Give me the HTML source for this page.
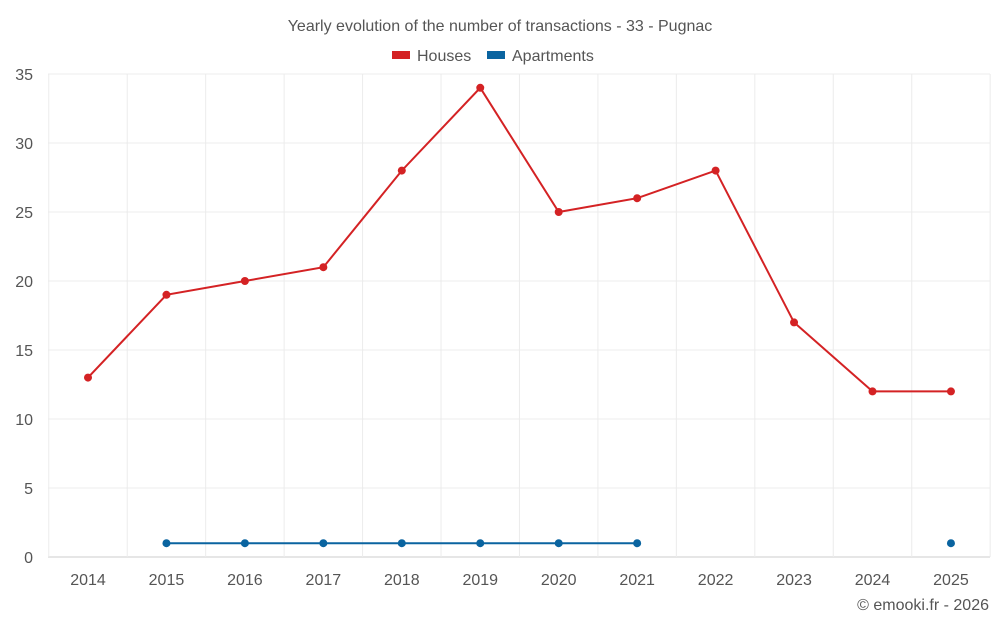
<!DOCTYPE html>
<html><head><meta charset="utf-8"><style>
body{margin:0;background:#fff;width:1000px;height:625px;overflow:hidden;font-family:"Liberation Sans",sans-serif}
</style></head><body>
<svg id="chart" width="1000" height="625" xmlns="http://www.w3.org/2000/svg">
<text x="500" y="31" text-anchor="middle" font-size="16" fill="#555">Yearly evolution of the number of transactions - 33 - Pugnac</text>
<g><rect x="392" y="51" width="18" height="8" fill="#d42224"/><text x="417" y="61" font-size="16" fill="#555">Houses</text></g>
<g><rect x="487" y="51" width="18" height="8" fill="#0a64a0"/><text x="512" y="61" font-size="16" fill="#555">Apartments</text></g>
<g id="grid"></g><g id="axes"></g><g id="series"></g>
<text x="989" y="610" text-anchor="end" font-size="16" fill="#555">© emooki.fr - 2026</text>
</svg>
<script>
const years=[2014,2015,2016,2017,2018,2019,2020,2021,2022,2023,2024,2025];
const houses=[13,19,20,21,28,34,25,26,28,17,12,12];
const apartments=[null,1,1,1,1,1,1,1,null,null,null,1];
const yTicks=[0,5,10,15,20,25,30,35];
const NS="http://www.w3.org/2000/svg";
const x0=88,step=78.45,yBase=557,yTop=74,yMax=35;
const X=i=>x0+i*step;
const Y=v=>yBase-(v/yMax)*(yBase-yTop);
function mk(tag,attrs,parent,text){const e=document.createElementNS(NS,tag);for(const k in attrs)e.setAttribute(k,attrs[k]);if(text!==undefined)e.textContent=text;document.getElementById(parent).appendChild(e);return e;}
yTicks.forEach(t=>{
 const l=mk('line',{x1:48,x2:990,y1:Y(t),y2:Y(t),stroke:t===0?'#ccc':'#ececec','stroke-width':1},'grid');
 
 
 const tx=mk('text',{x:33,y:Y(t)+6,'text-anchor':'end','font-size':16,fill:'#555'},'axes',t);
 
 
});
for(let i=0;i<=years.length;i++){
 const gx=X(i)-step/2;
 const l=mk('line',{x1:gx,x2:gx,y1:yTop,y2:yBase,stroke:'#ececec'},'grid');
 
 
}
years.forEach((yr,i)=>{
 const tx=mk('text',{x:X(i),y:585,'text-anchor':'middle','font-size':16,fill:'#555'},'axes',yr);
 
 
});
function drawSeries(vals,color,name){
 let d='',pen=false;
 vals.forEach((v,i)=>{if(v===null){pen=false;return;}d+=(pen?'L':'M')+X(i)+' '+Y(v)+' ';pen=true;});
 const p=mk('path',{d:d,fill:'none',stroke:color,'stroke-width':2},'series');
 
 
 vals.forEach((v,i)=>{if(v===null)return;
  const c=mk('circle',{cx:X(i),cy:Y(v),r:4,fill:color},'series');
  
  
 });
}
drawSeries(houses,'#d42224','houses');
drawSeries(apartments,'#0a64a0','apartments');
</script>
</body></html>
